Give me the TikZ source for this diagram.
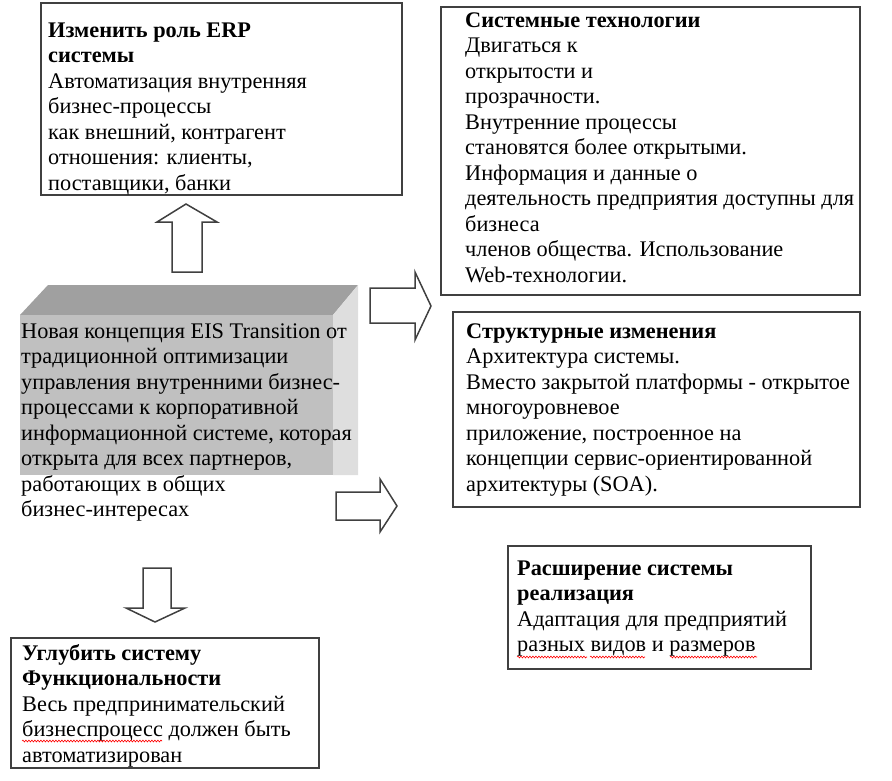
\documentclass[tikz,border=0pt]{standalone}
\usepackage{fontspec}
\setmainfont{Liberation Serif}
\usetikzlibrary{decorations.pathmorphing}
\definecolor{frame}{HTML}{404040}
\definecolor{topface}{HTML}{A0A0A0}
\definecolor{frontface}{HTML}{C0C0C0}
\definecolor{sideface}{HTML}{DEDEDE}
\tikzset{
  infobox/.style={draw=frame, line width=1.4pt, fill=white},
  txt/.style={anchor=north west, inner sep=0pt, align=left, font=\fontsize{22.3}{25.5}\selectfont},
  blockarrow/.style={draw=frame, line width=1.5pt, fill=white, line join=miter},
  squiggle/.style={red, line width=0.6pt, decorate, decoration={snake, amplitude=0.9pt, segment length=3pt}}
}
\newcommand{\fl}{\rule{0pt}{20pt}}
\begin{document}
\begin{tikzpicture}[x=1pt,y=-1pt]
\useasboundingbox (0,0) rectangle (892,780);
% boxes
\draw[infobox] (41,3) rectangle (402,195);
\draw[infobox] (441,7) rectangle (860,295);
\draw[infobox] (453,312) rectangle (860,507);
\draw[infobox] (11,638) rectangle (319,768);
\draw[infobox] (508,546) rectangle (811,669);
% 3D block
\fill[topface] (20,315) -- (48,285) -- (358,285) -- (333,315) -- cycle;
\fill[sideface] (333,315) -- (358,285) -- (358,475) -- (333,475) -- cycle;
\fill[frontface] (20,315) rectangle (333,475);
% arrows
\draw[blockarrow] (172,272) -- (172,222) -- (157,222) -- (186,204) -- (217,222) -- (202,222) -- (202,272) -- cycle;
\draw[blockarrow] (370,288) -- (415,288) -- (415,272) -- (431,306) -- (415,340) -- (415,323) -- (370,323) -- cycle;
\draw[blockarrow] (336,492) -- (380,492) -- (380,479) -- (397,506) -- (380,532) -- (380,520) -- (336,520) -- cycle;
\draw[blockarrow] (143,568) -- (171,568) -- (171,608) -- (185,608) -- (155,622) -- (126,608) -- (143,608) -- cycle;
% texts
\node[txt] (erp) at (48,17) {\fl\textbf{Изменить роль ERP}\\\textbf{системы}\\Автоматизация внутренняя\\бизнес-процессы\\как внешний, контрагент\\отношения: клиенты,\\поставщики, банки};
\node[txt] (tech) at (465,7) {\fl\textbf{Системные технологии}\\Двигаться к\\открытости и\\прозрачности.\\Внутренние процессы\\становятся более открытыми.\\Информация и данные о\\деятельность предприятия доступны для\\бизнеса\\членов общества. Использование\\Web-технологии.};
\node[txt] (struct) at (466,318) {\fl\textbf{Структурные изменения}\\Архитектура системы.\\Вместо закрытой платформы - открытое\\многоуровневое\\приложение, построенное на\\концепции сервис-ориентированной\\архитектуры (SOA).};
\node[txt] (eis) at (21,318) {\fl Новая концепция EIS Transition от\\традиционной оптимизации\\управления внутренними бизнес-\\процессами к корпоративной\\информационной системе, которая\\открыта для всех партнеров,\\работающих в общих\\бизнес-интересах};
\node[txt] (deep) at (22,640) {\fl\textbf{Углубить систему}\\\textbf{Функциональности}\\Весь предпринимательский\\бизнеспроцесс должен быть\\автоматизирован};
\node[txt] (ext) at (517,555) {\fl\textbf{Расширение системы}\\\textbf{реализация}\\Адаптация для предприятий\\разных видов и размеров};
% spell-check squiggles
\draw[squiggle] (22,741) -- (162,741);
\draw[squiggle] (517,657) -- (587,657);
\draw[squiggle] (590,657) -- (645,657);
\draw[squiggle] (670,657) -- (757,657);
\end{tikzpicture}
\end{document}
